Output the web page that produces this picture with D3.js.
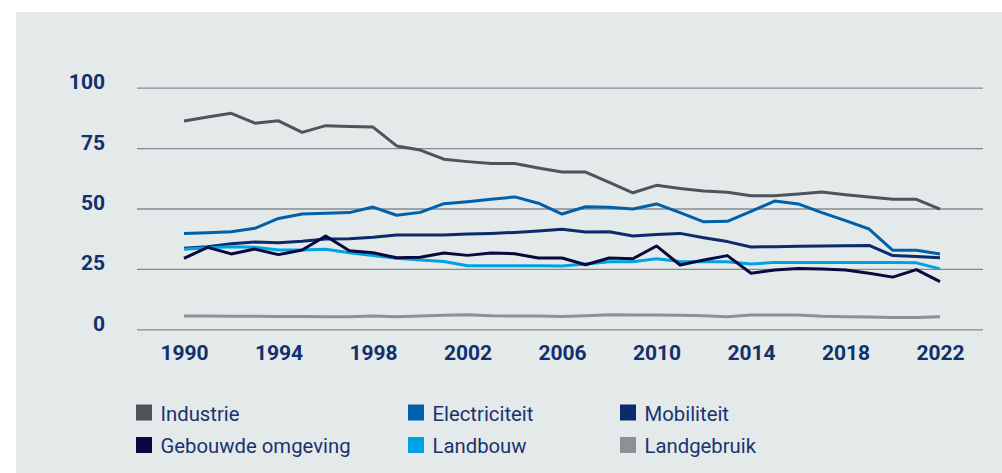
<!DOCTYPE html>
<html>
<head>
<meta charset="utf-8">
<script src="https://cdn.jsdelivr.net/npm/d3@7"></script>
<style>
  html, body { margin: 0; padding: 0; background: #ffffff; }
  svg { display: block; }
</style>
</head>
<body>
<svg id="chart" width="1002" height="473"></svg>
<script>
const years = d3.range(1990, 2023);
const xTickLabels = [1990, 1994, 1998, 2002, 2006, 2010, 2014, 2018, 2022];
const yTickLabels = [0, 25, 50, 75, 100];

const industrie = [86.2, 87.9, 89.4, 85.3, 86.3, 81.5, 84.3, 83.9, 83.7, 75.9, 74.2, 70.4, 69.4, 68.6, 68.6, 66.8, 65.1, 65.1, 60.8, 56.5, 59.6, 58.3, 57.2, 56.7, 55.3, 55.3, 56.0, 56.8, 55.7, 54.8, 53.8, 53.8, 49.7];
const electriciteit = [39.7, 40.0, 40.4, 41.8, 45.9, 47.7, 48.0, 48.3, 50.6, 47.2, 48.4, 52.0, 52.8, 53.8, 54.8, 52.2, 47.7, 50.7, 50.5, 49.8, 51.9, 48.3, 44.5, 44.7, 48.8, 53.1, 51.9, 48.3, 45.0, 41.5, 32.7, 32.7, 31.2];
const mobiliteit = [33.5, 34.2, 35.4, 36.1, 35.8, 36.4, 37.4, 37.5, 38.1, 39.0, 39.0, 39.0, 39.4, 39.7, 40.1, 40.7, 41.4, 40.3, 40.4, 38.6, 39.2, 39.7, 37.9, 36.3, 34.1, 34.2, 34.4, 34.5, 34.6, 34.7, 30.5, 30.1, 29.6];
const gebouwdeOmgeving = [29.4, 33.9, 31.2, 33.2, 30.9, 32.8, 38.6, 32.5, 31.7, 29.6, 29.8, 31.6, 30.6, 31.6, 31.3, 29.5, 29.5, 26.7, 29.5, 29.2, 34.5, 26.6, 28.7, 30.5, 23.2, 24.5, 25.2, 25.0, 24.5, 23.2, 21.6, 24.7, 19.7];
const landbouw = [33.1, 33.8, 34.2, 34.0, 32.8, 32.8, 33.1, 31.7, 30.5, 29.4, 28.7, 28.1, 26.3, 26.3, 26.3, 26.3, 26.2, 27.0, 28.0, 28.0, 29.2, 28.1, 28.0, 28.0, 27.0, 27.7, 27.7, 27.7, 27.7, 27.7, 27.6, 27.5, 25.0];
const landgebruik = [5.5, 5.5, 5.4, 5.4, 5.3, 5.3, 5.2, 5.2, 5.5, 5.2, 5.5, 5.8, 6.0, 5.6, 5.5, 5.5, 5.3, 5.6, 6.0, 5.9, 5.9, 5.8, 5.6, 5.2, 5.9, 5.9, 5.9, 5.4, 5.2, 5.1, 4.9, 4.9, 5.2];

const seriesNames = ["Industrie", "Electriciteit", "Mobiliteit", "Gebouwde omgeving", "Landbouw", "Landgebruik"];
const seriesValues = [industrie, electriciteit, mobiliteit, gebouwdeOmgeving, landbouw, landgebruik];
const seriesColors = ["#4e555a", "#0060aa", "#0c2a6c", "#07093f", "#00a2e2", "#8b9195"];

const svg = d3.select("#chart");

// panel background
svg.append("rect").attr("x", 16).attr("y", 12).attr("width", 1002 - 16).attr("height", 473 - 12).attr("fill", "#e4e9e9");

const x = d3.scaleLinear().domain([1990, 2022]).range([184, 940]);
const y = d3.scaleLinear().domain([0, 100]).range([329.3, 87.7]);
const gridLeft = 137, gridRight = 983;

// y axis with gridlines
const yAxis = svg.append("g")
  .attr("transform", `translate(${gridLeft},0)`)
  .call(d3.axisLeft(y).tickValues(yTickLabels).tickSize(-(gridRight - gridLeft)).tickPadding(32));
yAxis.select(".domain").remove();
yAxis.selectAll(".tick line").attr("stroke", "#868b8f").attr("stroke-width", 1.3);
yAxis.selectAll(".tick text")
  .attr("dy", "0.05em")
  .attr("fill", "#12306c")
  .style("font-family", "Roboto, 'Open Sans', sans-serif")
  .style("font-weight", "700")
  .style("font-size", "21px");

// x axis
const xAxis = svg.append("g")
  .attr("transform", `translate(0,${y(0)})`)
  .call(d3.axisBottom(x).tickValues(xTickLabels).tickFormat(d3.format("d")).tickSize(0));
xAxis.select(".domain").remove();
xAxis.selectAll(".tick text")
  .attr("y", 31)
  .attr("dy", "0")
  .attr("fill", "#12306c")
  .style("font-family", "Roboto, 'Open Sans', sans-serif")
  .style("font-weight", "700")
  .style("font-size", "21px");

// lines
const line = d3.line().x((d, i) => x(years[i])).y(d => y(d));
const drawOrder = [5, 0, 1, 2, 4, 3];
drawOrder.forEach(k => {
  svg.append("path")
    .datum(seriesValues[k])
    .attr("d", line)
    .attr("fill", "none")
    .attr("stroke", seriesColors[k])
    .attr("stroke-width", 3)
    .attr("stroke-linejoin", "round");
});

// legend
const legendCols = [136, 408, 620];
const legendRows = [404.5, 437];
const legend = svg.append("g");
const items = legend.selectAll("g.item").data(seriesNames).join("g")
  .attr("class", "item")
  .attr("transform", (d, i) => `translate(${legendCols[i % 3]},${legendRows[Math.floor(i / 3)]})`);
items.append("rect").attr("width", 16).attr("height", 16).attr("fill", (d, i) => seriesColors[i]);
const texts = items.append("text")
  .attr("x", 0).attr("y", 0)
  .attr("fill", "#1a336f")
  .style("font-family", "Roboto, sans-serif")
  .style("font-size", "19.7px")
  .text(d => d);
const refW = texts.filter(d => d === "Gebouwde omgeving").node().getComputedTextLength();
const sx = Math.min(1.1, 190 / refW);
texts.attr("transform", `translate(24.5,16) scale(${sx},1)`);
</script>
</body>
</html>
